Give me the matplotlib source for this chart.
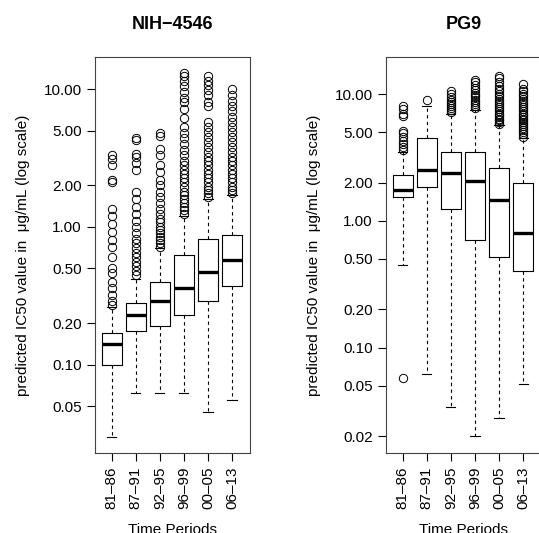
import matplotlib
matplotlib.use("Agg")
import matplotlib.pyplot as plt
from matplotlib.ticker import FixedLocator, NullLocator

plt.rcParams["font.family"] = ["Liberation Sans", "DejaVu Sans"]

PERIODS = ["81\u201386", "87\u201391", "92\u201395", "96\u201399", "00\u201305", "06\u201313"]

# NIH-4546: whislo, q1, med, q3, whishi
NIH_LO  = [0.030, 0.062, 0.062, 0.062, 0.045, 0.055]
NIH_Q1  = [0.100, 0.175, 0.190, 0.230, 0.290, 0.370]
NIH_MED = [0.140, 0.230, 0.290, 0.360, 0.470, 0.570]
NIH_Q3  = [0.170, 0.280, 0.400, 0.620, 0.820, 0.880]
NIH_HI  = [0.260, 0.420, 0.700, 1.200, 1.600, 1.700]
NIH_OUT = [
    [0.27, 0.29, 0.32, 0.36, 0.40, 0.46, 0.50, 0.60, 0.72, 0.80, 0.92, 1.05, 1.2, 1.35, 2.1, 2.2, 2.8, 3.1, 3.3],
    [0.45, 0.48, 0.52, 0.56, 0.60, 0.65, 0.70, 0.76, 0.82, 0.90, 1.0, 1.1, 1.25, 1.4, 1.6, 1.8, 2.6, 2.9, 3.2, 3.4, 4.3, 4.4],
    [0.72, 0.76, 0.80, 0.85, 0.90, 0.95, 1.0, 1.08, 1.15, 1.25, 1.35, 1.5, 1.65, 1.8, 2.0, 2.2, 2.5, 2.8, 3.3, 3.7, 4.6, 4.8],
    [1.25, 1.32, 1.4, 1.5, 1.6, 1.7, 1.8, 1.95, 2.1, 2.25, 2.4, 2.6, 2.8, 3.0, 3.3, 3.6, 4.0, 4.4, 4.8, 5.3, 6.2, 7.2, 8.0, 8.6, 9.5, 10.5, 11.5, 12.5, 13.0],
    [1.65, 1.75, 1.85, 1.95, 2.1, 2.25, 2.4, 2.6, 2.8, 3.0, 3.2, 3.5, 3.8, 4.1, 4.5, 4.9, 5.3, 5.8, 7.6, 8.0, 9.0, 9.8, 10.8, 11.5, 12.5],
    [1.75, 1.85, 1.95, 2.1, 2.25, 2.4, 2.6, 2.8, 3.0, 3.2, 3.5, 3.8, 4.1, 4.5, 4.9, 5.3, 5.8, 6.3, 6.9, 7.5, 8.2, 9.0, 10.0],
]

# PG9
PG9_LO  = [0.45, 0.062, 0.034, 0.020, 0.028, 0.052]
PG9_Q1  = [1.55, 1.85, 1.25, 0.70, 0.52, 0.40]
PG9_MED = [1.75, 2.50, 2.40, 2.05, 1.45, 0.80]
PG9_Q3  = [2.30, 4.50, 3.50, 3.50, 2.60, 2.00]
PG9_HI  = [3.50, 8.00, 7.00, 7.50, 5.70, 4.50]
PG9_OUT = [
    [0.057, 3.6, 3.8, 4.0, 4.3, 4.6, 4.9, 5.1, 6.7, 7.0, 7.6, 8.0],
    [9.0],
    [7.2, 7.5, 7.8, 8.1, 8.4, 8.7, 9.0, 9.4, 10.0, 10.6],
    [7.8, 8.1, 8.4, 8.7, 9.0, 9.4, 9.8, 10.2, 10.7, 11.2, 11.8, 12.5, 13.0],
    [5.8, 6.0, 6.2, 6.4, 6.6, 6.8, 7.0, 7.3, 7.6, 7.9, 8.2, 8.5, 8.8, 9.2, 9.6, 10.0, 10.5, 11.0, 11.6, 12.5, 13.5, 14.0],
    [4.6, 4.8, 5.0, 5.2, 5.4, 5.6, 5.8, 6.0, 6.2, 6.4, 6.6, 6.8, 7.0, 7.3, 7.6, 7.9, 8.2, 8.5, 8.8, 9.2, 9.6, 10.0, 10.5, 11.0, 12.0],
]

YLABEL = "predicted IC50 value in  \u03bcg/mL (log scale)"


def stats(lo, q1, med, q3, hi, out):
    return [dict(whislo=a, q1=b, med=c, q3=d, whishi=e, fliers=f)
            for a, b, c, d, e, f in zip(lo, q1, med, q3, hi, out)]


def panel(ax, st, title, ylim, yticks):
    ax.bxp(st, widths=0.82, showfliers=True, patch_artist=False,
           boxprops=dict(color="black", lw=0.8),
           medianprops=dict(color="black", lw=2.4),
           whiskerprops=dict(color="black", lw=0.8, linestyle=(0, (3, 3))),
           capprops=dict(color="black", lw=0.8),
           capwidths=0.38,
           flierprops=dict(marker="o", markerfacecolor="none",
                           markeredgecolor="black", markersize=6, markeredgewidth=0.7))
    ax.set_yscale("log")
    ax.set_ylim(*ylim)
    ax.set_xlim(0.3, 6.75)
    ax.yaxis.set_major_locator(FixedLocator(yticks))
    ax.yaxis.set_minor_locator(NullLocator())
    ax.set_yticklabels([f"{t:.2f}" for t in yticks], fontsize=11)
    ax.set_xticks(range(1, 7))
    ax.set_xticklabels(PERIODS, rotation=90, fontsize=11)
    ax.tick_params(length=6, width=0.8)
    ax.set_xlabel("Time Periods", fontsize=11, labelpad=10)
    ax.set_ylabel(YLABEL, fontsize=11, labelpad=10)
    ax.set_title(title, fontsize=13, fontweight="bold", pad=20)
    for s in ax.spines.values():
        s.set_linewidth(0.8)
        s.set_color("#444444")


fig = plt.figure(figsize=(5.39, 5.33), dpi=100)
ax1 = fig.add_axes([0.176, 0.150, 0.288, 0.743])
ax2 = fig.add_axes([0.716, 0.150, 0.288, 0.743])

panel(ax1, stats(NIH_LO, NIH_Q1, NIH_MED, NIH_Q3, NIH_HI, NIH_OUT), "NIH\u22124546",
      (0.0228, 17.1), [0.05, 0.10, 0.20, 0.50, 1.00, 2.00, 5.00, 10.00])
panel(ax2, stats(PG9_LO, PG9_Q1, PG9_MED, PG9_Q3, PG9_HI, PG9_OUT), "PG9",
      (0.0147, 19.6), [0.02, 0.05, 0.10, 0.20, 0.50, 1.00, 2.00, 5.00, 10.00])

fig.savefig("out.png", dpi=100)
